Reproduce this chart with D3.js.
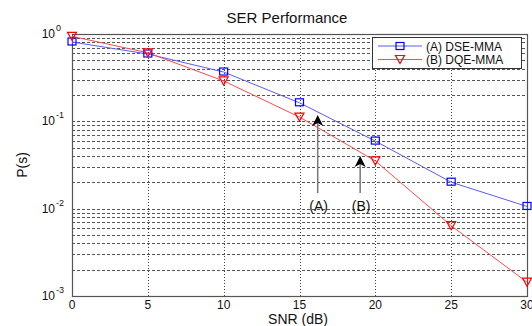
<!DOCTYPE html>
<html><head><meta charset="utf-8">
<script src="https://cdn.jsdelivr.net/npm/d3@7"></script>
<style>body{margin:0;background:#fff}svg{display:block}text{font-family:"Liberation Sans",Arial,sans-serif}</style>
</head><body><svg id="c" width="532" height="326"></svg>
<script>
const snr = [0,5,10,15,20,25,30];
const dse = [0.81,0.59,0.367,0.163,0.0594,0.0201,0.0106];
const dqe = [0.94,0.61,0.29,0.112,0.0352,0.00638,0.00144];
const xTicks = [0,5,10,15,20,25,30];
const yExps = [0,-1,-2,-3];
const seriesNames = ["(A) DSE-MMA","(B) DQE-MMA"];
const arrows = [{x:16.2,label:"(A)"},{x:19.0,label:"(B)"}];

const svg = d3.select("#c");
const L=72,R=527,T=34,B=296;
const x = d3.scaleLinear().domain([0,30]).range([L,R]);
const y = d3.scaleLog().domain([1e-3,1]).range([B,T]);

// grid
const g = svg.append("g");
const minor=[];
for(let e=-3;e<0;e++) for(let m=1;m<10;m++) minor.push(m*Math.pow(10,e));
g.selectAll(".hg").data(minor.filter(v=>v>1e-3)).join("line")
 .attr("x1",L).attr("x2",R).attr("y1",d=>Math.round(y(d))+0.5).attr("y2",d=>Math.round(y(d))+0.5)
 .attr("stroke","#555").attr("stroke-width",1).attr("stroke-dasharray","3,2");
g.selectAll(".vg").data(xTicks.slice(1,-1)).join("line")
 .attr("x1",d=>Math.round(x(d))+0.5).attr("x2",d=>Math.round(x(d))+0.5).attr("y1",T).attr("y2",B)
 .attr("stroke","#444").attr("stroke-width",1).attr("stroke-dasharray","1,2");

// frame
svg.append("rect").attr("x",L+0.5).attr("y",T+0.5).attr("width",R-L).attr("height",B-T)
 .attr("fill","none").attr("stroke","#555").attr("stroke-width",1.2);

// x ticks
const xa = svg.append("g");
xa.selectAll("text").data(xTicks).join("text").attr("x",d=>x(d)).attr("y",B+13)
 .attr("text-anchor","middle").attr("font-size",12).attr("fill","#111").text(d=>d);
// y ticks
const ya = svg.append("g");
yExps.forEach(e=>{
  ya.append("text").attr("x",55).attr("y",y(Math.pow(10,e))+4).attr("text-anchor","end")
   .attr("font-size",12).attr("fill","#111").text("10");
  ya.append("text").attr("x",56).attr("y",y(Math.pow(10,e))-3).attr("font-size",9).attr("fill","#111")
   .text(e===0?"0":"-"+(-e));
});

// lines
const line = d3.line().x((d,i)=>x(snr[i])).y(d=>y(d));
svg.append("path").datum(dse).attr("d",line).attr("fill","none").attr("stroke","#5a5aff").attr("stroke-width",1);
svg.append("path").datum(dqe).attr("d",line).attr("fill","none").attr("stroke","#ff4a4a").attr("stroke-width",1);
svg.selectAll(".sq").data(dse).join("rect").attr("x",(d,i)=>x(snr[i])-4).attr("y",d=>y(d)-4)
 .attr("width",8).attr("height",7).attr("fill","none").attr("stroke","#0000ff").attr("stroke-width",1.2);
const tri = (cx,cy)=>`M${cx-4.5},${cy-4}L${cx+4.5},${cy-4}L${cx},${cy+4}Z`;
svg.selectAll(".tr").data(dqe).join("path").attr("d",(d,i)=>tri(x(snr[i]),y(d)))
 .attr("fill","none").attr("stroke","#ff0000").attr("stroke-width",1.2);

// arrows
arrows.forEach((a,i)=>{
  const cx=x(a.x);
  const tipY = y(i===0? 0.118 : 0.0402);
  svg.append("line").attr("x1",cx).attr("x2",cx).attr("y1",tipY+8).attr("y2",193)
   .attr("stroke","#777").attr("stroke-width",1.5);
  svg.append("path").attr("d",`M${cx},${tipY}L${cx+5.5},${tipY+11}L${cx},${tipY+8}L${cx-5.5},${tipY+11}Z`).attr("fill","#000");
  svg.append("text").attr("x",cx+1).attr("y",211).attr("text-anchor","middle").attr("font-size",14).attr("fill","#111").text(a.label);
});

// legend
const lg = svg.append("g");
lg.append("rect").attr("x",372.5).attr("y",37.5).attr("width",149).attr("height",31).attr("fill","#fff").attr("stroke","#333").attr("stroke-width",1);
[0,1].forEach(i=>{
  const yy = 46+i*13.5;
  lg.append("line").attr("x1",378).attr("x2",422).attr("y1",yy).attr("y2",yy).attr("stroke",i? "#ff4a4a":"#5a5aff");
  if(i===0) lg.append("rect").attr("x",396).attr("y",yy-3.5).attr("width",8).attr("height",7).attr("fill","none").attr("stroke","#0000ff").attr("stroke-width",1.2);
  else lg.append("path").attr("d",tri(400,yy)).attr("fill","none").attr("stroke","#ff0000").attr("stroke-width",1.2);
  lg.append("text").attr("x",426).attr("y",yy+4.5).attr("font-size",12).attr("fill","#111").text(seriesNames[i]);
});

// titles
svg.append("text").attr("x",287).attr("y",23).attr("text-anchor","middle").attr("font-size",15).attr("fill","#111").text("SER Performance");
svg.append("text").attr("x",298).attr("y",324).attr("text-anchor","middle").attr("font-size",14).attr("fill","#111").text("SNR (dB)");
svg.append("text").attr("transform","translate(27,165) rotate(-90)").attr("text-anchor","middle").attr("font-size",14).attr("fill","#111").text("P(s)");
</script></body></html>
